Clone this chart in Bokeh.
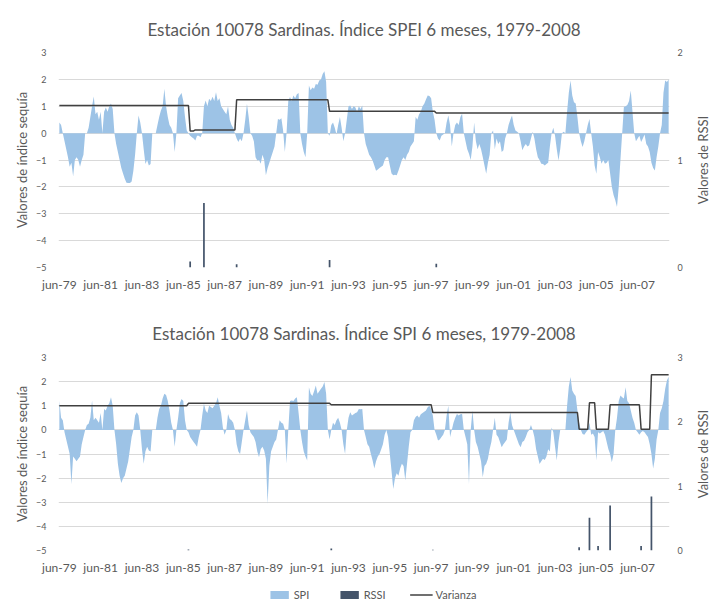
import numpy as np
from bokeh.plotting import figure
from bokeh.models import Range1d, LinearAxis, FixedTicker, Legend, LegendItem, Title
from bokeh.layouts import column, row
from bokeh.embed import file_html
from bokeh.resources import INLINE

# ---------------- data ----------------
inicio = (1979, 6)  # first month of the series (jun-1979)
etiquetas = ["jun-79", "jun-81", "jun-83", "jun-85", "jun-87", "jun-89", "jun-91",
             "jun-93", "jun-95", "jun-97", "jun-99", "jun-01", "jun-03", "jun-05", "jun-07"]

# SPEI 6 meses, monthly from jun-1979 (one row = 12 months from June)
spei = [
    0.4, 0.3, 0.0, -0.3, -0.6, -0.9, -1.25, -1.1, -1.6, -1.0, -0.9, -1.0,
    -1.25, -1.0, -0.8, 0.0, 0.0, 0.2, 0.6, 1.0, 1.36, 0.7, 0.8, 0.5,
    0.8, 0.0, 0.8, 0.95, 0.8, 1.0, 1.1, 0.9, 0.0, -0.4, -0.7, -1.0,
    -1.3, -1.5, -1.7, -1.85, -1.86, -1.86, -1.8, -1.4, -0.8, 0.0, 0.66, 0.4,
    0.0, -0.6, -1.15, -1.0, -1.2, -1.15, 0.0, 0.0, 0.0, 0.3, 0.6, 0.84,
    1.0, 1.65, 1.0, 0.6, 0.3, 0.2, 0.0, -0.7, 0.0, 1.3, 1.4, 1.49,
    1.2, 0.6, 0.1, 0.0, -0.1, -0.15, -0.2, -0.27, -0.1, -0.1, -0.15, 0.0,
    1.0, 1.21, 1.0, 1.28, 1.2, 1.35, 1.2, 1.52, 1.2, 1.3, 1.0, 0.9,
    0.8, 0.7, 1.0, 0.5, 0.3, 0.2, 0.0, -0.2, -0.33, -0.2, -0.3, 0.0,
    0.5, 1.09, 0.6, 0.0, -0.1, -0.3, -0.9, -1.02, -1.0, -1.14, -0.8, -1.0,
    -1.57, -1.3, -1.1, -0.9, -0.7, -0.5, 0.0, 0.53, 0.5, 0.55, 0.1, -0.7,
    0.0, 1.2, 1.34, 1.2, 1.4, 1.3, 1.45, 1.49, 0.0, -0.4, -0.7, -0.9,
    0.0, 1.77, 1.6, 1.7, 1.65, 1.83, 1.8, 1.96, 2.0, 2.2, 2.3, 1.9,
    0.0, -0.1, 0.3, 0.4, 0.2, -0.05, 0.3, 0.6, 0.2, -0.3, 0.0, 0.5,
    1.0, 1.03, 0.9, 1.0, 0.95, 0.8, 1.0, 0.9, 1.03, 0.0, -0.4, -0.6,
    -0.8, -0.9, -1.02, -1.2, -1.4, -1.35, -1.3, -1.25, -1.2, -1.0, -0.9, -0.9,
    -1.2, -1.5, -1.57, -1.55, -1.57, -1.4, -1.2, -1.0, -0.9, -1.0, -0.8, -0.7,
    -0.5, -0.4, -0.3, 0.6, 0.5, 0.7, 0.8, 1.0, 1.09, 1.25, 1.4, 1.38,
    1.3, 0.8, 0.5, 0.0, -0.2, -0.27, -0.1, -0.05, 0.0, 0.4, 0.66, 0.3,
    -0.5, 0.0, 0.3, 0.4, 0.3, 0.6, 0.72, 0.0, -0.3, -0.6, -0.77, -1.0,
    -0.5, 0.4, -0.3, -0.6, -0.4, -0.6, -0.89, -1.2, -1.51, -1.1, -0.8, 0.0,
    0.1, -0.6, -0.2, -0.4, -0.3, -0.7, -0.64, -0.2, 0.0, 0.3, 0.5, 0.66,
    0.3, 0.1, 0.05, 0.0, -0.3, -0.64, -0.5, -0.4, -0.5, -0.45, -0.2, 0.05,
    -0.2, -0.6, -0.9, -1.0, -1.14, -1.15, -1.2, -1.15, -1.1, -0.5, 0.0, 0.2,
    -0.1, -0.6, -1.02, -0.6, 0.0, 0.05, 0.0, 0.8, 1.5, 1.96, 1.4, 1.15,
    1.1, 0.6, 0.0, -0.3, -0.52, -0.3, 0.0, 0.3, 0.53, 0.0, -0.5, -1.2,
    -1.51, -0.7, -0.9, -1.14, -1.0, -1.14, -1.1, -1.0, -1.5, -2.0, -2.3, -2.5,
    -2.75, -2.0, -1.0, 0.0, 0.97, 1.0, 1.05, 1.2, 1.59, 0.8, 0.0, -0.3,
    -0.2, -0.1, -0.33, -0.2, -0.05, -0.4, -0.5, -0.7, -1.1, -1.3, -1.39, -0.9,
    -0.5, 0.0, 0.3, 1.5, 1.96, 1.9, 2.0,
]

# SPI 6 meses, monthly from jun-1979
spi = [
    1.2, 0.5, 0.4, -0.1, -0.4, -0.7, -1.0, -2.25, -1.1, -1.2, -1.3, -1.2,
    -1.1, -0.6, -0.3, 0.0, 0.2, 0.25, 0.5, 1.22, 0.4, 0.5, 0.4, 0.3,
    0.7, 0.0, 0.87, 0.8, 1.0, 1.1, 1.35, 1.0, 0.0, -0.6, -1.4, -1.9,
    -2.2, -2.0, -1.9, -1.6, -1.3, -0.8, -0.3, 0.0, 0.6, 0.73, 0.6, 0.0,
    -0.8, -1.4, -0.9, -0.7, -0.85, -0.9, 0.0, 0.0, 0.0, 0.5, 0.87, 1.0,
    1.3, 1.5, 1.45, 1.2, 0.8, 0.3, 0.0, -0.7, 0.0, 0.5, 1.1, 1.28,
    1.2, 0.4, 0.0, -0.1, -0.3, -0.4, -0.5, -0.6, -0.7, -0.3, 0.0, 0.6,
    1.08, 0.8, 0.7, 1.0, 0.95, 0.9, 1.0, 1.1, 1.35, 1.0, 0.7, 0.1,
    -0.2, 0.0, 0.66, 0.45, 0.4, 0.3, 0.0, -0.6, -0.9, -1.0, -0.5, 0.0,
    0.4, 0.8, 0.2, -0.1, -0.2, -0.3, -0.5, -0.9, -1.13, -0.8, -0.7, -0.85,
    -1.2, -3.07, -1.5, -0.9, -0.7, -0.5, -0.4, 0.0, 0.4, 0.3, 0.25, 0.0,
    -1.4, 0.0, 1.2, 1.22, 1.2, 1.3, 1.35, 0.7, 0.0, -0.5, -0.9, -1.1,
    -1.27, 1.77, 1.5, 1.4, 1.6, 1.84, 1.5, 1.6, 1.7, 1.8, 1.98, 1.5,
    0.0, -0.4, 0.0, 0.3, 0.2, 0.4, 0.5, 0.3, 0.0, -0.6, -1.0, 0.0,
    0.5, 0.73, 0.6, 0.65, 0.7, 0.73, 0.87, 0.85, 0.87, 0.0, -0.3, -0.6,
    -0.7, -1.0, -1.27, -1.6, -1.3, -1.1, -1.0, -0.8, -0.6, -0.2, 0.0, -0.3,
    -1.0, -1.7, -2.45, -2.0, -1.8, -1.9, -1.6, -1.4, -1.5, -2.1, -1.4, -0.7,
    -0.1, 0.0, 0.4, 0.53, 0.6, 0.5, 0.65, 0.7, 0.75, 0.8, 0.94, 1.0,
    0.85, 0.6, 0.0, -0.2, -0.44, -0.4, -0.3, -0.2, 0.0, 0.6, 1.0, -0.3,
    0.0, 0.3, 0.5, 0.66, 0.6, 0.65, 0.66, 0.0, -0.3, -0.6, -2.24, 0.0,
    0.8, 0.0, -0.5, -0.7, -1.0, -1.3, -1.96, -1.5, -1.4, -1.2, -0.8, -0.5,
    0.0, 0.5, -0.2, -0.3, -0.5, -0.72, -0.6, -0.5, -0.4, 0.3, 0.73, 0.2,
    0.0, -0.2, -0.4, -0.6, -0.72, -0.5, -0.45, -0.3, -0.1, 0.0, 0.2, 0.0,
    -0.3, -0.8, -1.1, -1.41, -1.3, -1.2, -1.25, -1.1, -0.8, -0.9, 0.1, -0.1,
    -0.7, -1.27, -0.5, 0.0, 0.0, 0.0, 0.0, 1.0, 1.8, 2.19, 1.63, 1.5,
    1.4, 0.8, 0.3, 0.0, -0.17, -0.2, -0.1, 0.0, 0.3, -0.2, -0.15, -0.3,
    -1.27, -0.1, -0.15, -0.1, -0.05, -0.2, -0.5, -0.8, -1.0, -1.34, -1.0, 0.0,
    0.5, 1.2, 1.42, 1.35, 1.3, 1.77, 1.2, 1.1, 0.8, 0.5, 0.3, 0.0,
    -0.1, -0.2, -0.1, -0.05, -0.1, -0.2, -0.3, -0.6, -1.0, -1.6, -1.2, -0.4,
    0.0, 0.7, 0.9, 1.2, 1.7, 2.05, 2.2,
]

# Varianza (piecewise constant): month where each level starts, and level
var_spei_desde = ["1979-06", "1985-10", "1986-01", "1988-01", "1992-07", "1997-09"]
var_spei = [1.03, 0.08, 0.12, 1.24, 0.81, 0.75]
var_spi_desde = ["1979-06", "1985-09", "1992-08", "1997-07", "2004-08", "2005-02",
                 "2005-06", "2006-02", "2007-08", "2008-02"]
var_spi = [1.0, 1.1, 1.04, 0.72, 0.03, 1.12, 0.03, 1.04, 0.03, 2.28]

# RSSI
rssi_spei_mes = ["1985-10", "1986-06", "1988-01", "1992-07", "1997-09"]
rssi_spei = [0.055, 0.6, 0.03, 0.07, 0.035]
rssi_spi_mes = ["1985-09", "1992-08", "1997-07", "2004-08", "2005-02", "2005-07",
                "2006-02", "2007-08", "2008-02"]
rssi_spi = [0.015, 0.03, 0.01, 0.05, 0.51, 0.07, 0.70, 0.07, 0.84]

leyenda = ["SPI", "RSSI", "Varianza"]

# ---------------- helpers ----------------
def idx(s):
    y, m = s.split("-")
    return (int(y) - inicio[0]) * 12 + (int(m) - inicio[1])

def escalones(desde, niveles, n):
    starts = [idx(d) for d in desde]
    out = np.empty(n)
    for k, s in enumerate(starts):
        e = starts[k + 1] if k + 1 < len(starts) else n
        out[s:e] = niveles[k]
    return out

GRAY = "#595959"
GRID = "#D9D9D9"
BLUE = "#9DC3E6"
NAVY = "#44546A"
LINE = "#404040"
FONT = "Lato"


def style_axis(ax, size="9px"):
    ax.axis_line_color = None
    ax.major_tick_line_color = None
    ax.minor_tick_line_color = None
    ax.major_tick_out = 0
    ax.major_tick_in = 0
    ax.minor_tick_out = 0
    ax.minor_tick_in = 0
    ax.major_label_text_color = GRAY
    ax.major_label_text_font = FONT
    ax.major_label_text_font_size = size
    ax.axis_label_text_color = GRAY
    ax.axis_label_text_font = FONT
    ax.axis_label_text_font_size = "13px"
    ax.axis_label_text_font_style = "normal"


def draw_series(p, serie, var_desde, var_vals, rssi_mes, rssi_vals):
    n = len(serie)
    x = np.arange(n)
    area = p.varea(x=x, y1=0, y2=np.array(serie), fill_color=BLUE, fill_alpha=1.0)
    bars = p.vbar(x=[idx(m) for m in rssi_mes], top=rssi_vals, bottom=0, width=1.0,
                  y_range_name="rssi", fill_color=NAVY, line_color=None)
    ln = p.line(x=x, y=escalones(var_desde, var_vals, n), line_color=LINE, line_width=1.5)
    return area, bars, ln


def make_fig(title, serie, var_desde, var_vals, rssi_mes, rssi_vals, rssi_max,
             frame_h, top, bottom, title_standoff):
    n = len(serie)
    p = figure(frame_width=611, frame_height=frame_h, x_range=Range1d(-0.5, n - 0.5),
               y_range=Range1d(-5, 3), output_backend="svg", toolbar_location=None,
               min_border_left=58, min_border_right=14, min_border_top=top,
               min_border_bottom=bottom)
    p.extra_y_ranges = {"rssi": Range1d(0, rssi_max)}
    p.outline_line_color = None
    p.background_fill_color = "white"
    p.title.text = title
    p.title.align = "center"
    p.title.text_font = FONT
    p.title.text_font_size = "17px"
    p.title.text_font_style = "normal"
    p.title.text_color = GRAY
    p.title.standoff = title_standoff

    p.xgrid.grid_line_color = None
    p.ygrid.grid_line_color = GRID
    p.ygrid.ticker = FixedTicker(ticks=list(range(-5, 4)))

    p.yaxis.ticker = FixedTicker(ticks=list(range(-5, 4)))
    p.yaxis.axis_label = "Valores de índice sequía"
    p.yaxis.major_label_standoff = 12
    p.yaxis.axis_label_standoff = 3
    style_axis(p.yaxis[0])

    ticks = [24 * i for i in range(len(etiquetas))]
    p.xaxis.ticker = FixedTicker(ticks=ticks)
    p.xaxis.major_label_overrides = {t: lab for t, lab in zip(ticks, etiquetas)}
    p.xaxis.major_label_standoff = 9
    style_axis(p.xaxis[0], "12px")

    ax2 = LinearAxis(y_range_name="rssi", ticker=FixedTicker(ticks=list(range(0, rssi_max + 1))))
    ax2.major_label_standoff = 8
    style_axis(ax2)
    p.add_layout(ax2, "right")

    draw_series(p, serie, var_desde, var_vals, rssi_mes, rssi_vals)

    # narrow companion figure carrying the right-hand axis title (reads bottom-to-top)
    r = figure(frame_width=1, frame_height=frame_h, x_range=Range1d(0, 1), y_range=Range1d(0, 1),
               output_backend="svg", toolbar_location=None, min_border_left=30,
               min_border_right=6, min_border_top=top, min_border_bottom=bottom)
    r.axis.visible = False
    r.grid.visible = False
    r.outline_line_color = None
    r.add_layout(Title(text="Valores de RSSI", align="center", text_font=FONT,
                       text_font_size="13px", text_font_style="normal", text_color=GRAY),
                 "left")
    return p, r


p1, r1 = make_fig("Estación 10078 Sardinas. Índice SPEI 6 meses, 1979-2008", spei,
                  var_spei_desde, var_spei, rssi_spei_mes, rssi_spei, 2,
                  215, 52, 33, 26)
p2, r2 = make_fig("Estación 10078 Sardinas. Índice SPI 6 meses, 1979-2008", spi,
                  var_spi_desde, var_spi, rssi_spi_mes, rssi_spi, 3,
                  193, 57, 33, 28)

# legend strip below the second chart (series drawn out of view; only the legend shows)
p3 = figure(frame_width=696, frame_height=22, x_range=Range1d(-1000, -999),
            y_range=Range1d(-1000, -999), output_backend="svg", toolbar_location=None,
            min_border_left=24, min_border_right=0, min_border_top=0, min_border_bottom=0)
p3.extra_y_ranges = {"rssi": Range1d(-1000, -999)}
p3.axis.visible = False
p3.grid.visible = False
p3.outline_line_color = None
g_area, g_bar, g_line = draw_series(p3, spi, var_spi_desde, var_spi, rssi_spi_mes, rssi_spi)
legend = Legend(items=[LegendItem(label=leyenda[0], renderers=[g_area]),
                       LegendItem(label=leyenda[1], renderers=[g_bar]),
                       LegendItem(label=leyenda[2], renderers=[g_line])],
                location="center", orientation="horizontal",
                label_text_font=FONT, label_text_font_size="11px", label_text_color=GRAY,
                glyph_width=23, glyph_height=10, label_standoff=3, spacing=24,
                padding=0, margin=0, border_line_color=None, background_fill_alpha=0,
                label_height=12)
p3.add_layout(legend, "center")

layout = column(row(p1, r1, spacing=0), row(p2, r2, spacing=0), p3, spacing=0)
open("out.html", "w").write(file_html(layout, INLINE))
